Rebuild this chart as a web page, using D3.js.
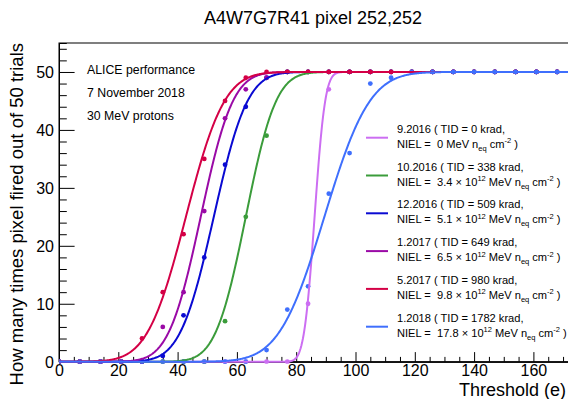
<!DOCTYPE html>
<html><head><meta charset="utf-8">
<script src="https://cdn.jsdelivr.net/npm/d3@7"></script>
<style>
body{margin:0;background:#fff}
svg{display:block;font-family:"Liberation Sans",Arial,Helvetica,sans-serif}
text{white-space:pre}
</style>
</head><body><svg id="c" width="568" height="399"></svg>
<script>
// ---- data ----
const thresholds = [0,7,14,21,28,35,42,49,56,63,70,77,84,91,98,105,112,119,126,133,140,147,154,161,168];
const seriesNames = ["9.2016","10.2016","12.2016","1.2017","5.2017","1.2018"];
const tidKrad = ["0","338","509","649","980","1782"];
const nielE12 = ["0","3.4","5.1","6.5","9.8","17.8"];
const fired_2016_09 = [0,0,0,0,0,0,0,0,0,0,0,0,10,47,50,50,50,50,50,50,50,50,50,50,50];
const fired_2016_10 = [0,0,0,0,0,0,0,0,7,25,39,50,50,50,50,50,50,50,50,50,50,50,50,50,50];
const fired_2016_12 = [0,0,0,0,0,1,8,18,34,44,49,50,50,50,50,50,50,50,50,50,50,50,50,50,50];
const fired_2017_01 = [0,0,0,0,0,6,12,26,42,47,49,50,50,50,50,50,50,50,50,50,50,50,50,50,50];
const fired_2017_05 = [0,0,0,0,4,12,22,35,45,49,50,50,50,50,50,50,50,50,50,50,50,50,50,50,50];
const fired_2018_01 = [0,0,0,0,0,0,0,0,0,0,2,9,13,29,36,48,49,50,50,50,50,50,50,50,50];
// s-curve (erf) fit parameters
const fitMean  = [86.2, 63.0, 52.2, 47.8, 42.8, 89.5];
const fitSigma = [2.8, 8.0, 8.9, 8.5, 10.2, 12.0];
const nTrials = 50;
const xTicks = [0,20,40,60,80,100,120,140,160];
const yTicks = [0,10,20,30,40,50];
const colors = ["#cc6ef2","#3b9c3b","#0a0ad2","#9a0aa6","#d40046","#3f6ffd"];

const series = [fired_2016_09,fired_2016_10,fired_2016_12,fired_2017_01,fired_2017_05,fired_2018_01];

// ---- layout ----
const svg = d3.select("#c");
const L = 59, T = 43, B = 361.7;
const pxPerUnit = 2.965;
const xMax = 175;
const x = d3.scaleLinear().domain([0, xMax]).range([L, L + xMax*pxPerUnit]);
const y = d3.scaleLinear().domain([0, 55]).range([B, T]);
const R = x(xMax);

function erf(z){
  const s = z < 0 ? -1 : 1; z = Math.abs(z);
  const t = 1/(1+0.3275911*z);
  const p = 1 - (((((1.061405429*t - 1.453152027)*t) + 1.421413741)*t - 0.284496736)*t + 0.254829592)*t*Math.exp(-z*z);
  return s*p;
}

// frame
svg.append("rect").attr("x",L).attr("y",T).attr("width",R-L).attr("height",B-T)
  .attr("fill","none").attr("stroke","#000").attr("stroke-width",1);

// axes
const fontTick = 16;
const xAxis = d3.axisBottom(x).tickValues(xTicks).tickSizeInner(-9.6).tickSizeOuter(0).tickPadding(3);
const gx = svg.append("g").attr("transform",`translate(0,${B})`).call(xAxis);
const xMinor = d3.axisBottom(x).tickValues(d3.range(0, 171, 5).filter(v=>v%20!==0)).tickSize(-4.8).tickFormat("");
svg.append("g").attr("transform",`translate(0,${B})`).call(xMinor);
const yAxis = d3.axisLeft(y).tickValues(yTicks).tickSizeInner(-15.6).tickSizeOuter(0).tickPadding(5);
const gy = svg.append("g").attr("transform",`translate(${L},0)`).call(yAxis);
const yMinor = d3.axisLeft(y).tickValues(d3.range(0, 55, 2).filter(v=>v%10!==0)).tickSize(-7.8).tickFormat("");
svg.append("g").attr("transform",`translate(${L},0)`).call(yMinor);
svg.selectAll(".domain").attr("stroke","#000");
svg.selectAll(".tick line").attr("stroke","#000");
svg.selectAll(".tick text").attr("font-size",fontTick).attr("font-family","Liberation Sans,Arial,sans-serif").attr("fill","#000");
gy.selectAll(".tick text").attr("dy","0.36em");

// curves (fits)
const xs = d3.range(0, xMax+0.001, 0.25);
const line = d3.line().x(d=>x(d[0])).y(d=>y(d[1])).curve(d3.curveLinear);
svg.append("clipPath").attr("id","pc").append("rect").attr("x",L).attr("y",T).attr("width",R-L).attr("height",B-T+2);
const plot = svg.append("g").attr("clip-path","url(#pc)");

series.forEach((vals,i)=>{
  plot.append("g").selectAll("circle").data(thresholds.map((t,k)=>[t,vals[k]])).join("circle")
    .attr("cx",d=>x(d[0])).attr("cy",d=>y(d[1])).attr("r",2.4).attr("fill",colors[i]);
});
series.forEach((vals,i)=>{
  const pts = xs.map(v=>[v, nTrials/2*(1+erf((v-fitMean[i])/(Math.SQRT2*fitSigma[i])))]);
  plot.append("path").datum(pts).attr("d",line).attr("fill","none")
    .attr("stroke",colors[i]).attr("stroke-width",2);
});

// titles
svg.append("text").attr("x",313).attr("y",24).attr("text-anchor","middle")
  .attr("font-size",18).text("A4W7G7R41 pixel 252,252");
svg.append("text").attr("x",566).attr("y",396).attr("text-anchor","end")
  .attr("font-size",18).text("Threshold (e)");
svg.append("text").attr("transform","translate(23,43) rotate(-90)").attr("text-anchor","end")
  .attr("font-size",18.5).text("How many times pixel fired out of 50 trials");

// annotations
const notes = ["ALICE performance","7 November 2018","30 MeV protons"];
notes.forEach((s,i)=>{
  svg.append("text").attr("x",87).attr("y",74+i*23).attr("font-size",12.3).text(s);
});

// legend
const lg = svg.append("g");
seriesNames.forEach((nm,i)=>{
  const ly = 137.7 + i*37.8;
  lg.append("line").attr("x1",366).attr("x2",388).attr("y1",ly).attr("y2",ly)
    .attr("stroke",colors[i]).attr("stroke-width",2);
  lg.append("text").attr("x",397).attr("y",ly-5).attr("font-size",11.1)
    .text(`${nm} ( TID = ${tidKrad[i]} krad,`);
  const t2 = lg.append("text").attr("x",397).attr("y",ly+10).attr("font-size",11.1);
  if (nielE12[i] === "0") {
    t2.append("tspan").text("NIEL =  0 MeV n");
  } else {
    t2.append("tspan").text(`NIEL =  ${nielE12[i]} \u00d7 10`);
    t2.append("tspan").attr("dy",-4.5).attr("font-size",7.5).text("12");
    t2.append("tspan").attr("dy",4.5).text(" MeV n");
  }
  t2.append("tspan").attr("dy",3).attr("font-size",7.5).text("eq");
  t2.append("tspan").attr("dy",-3).text(" cm");
  t2.append("tspan").attr("dy",-4.5).attr("font-size",7.5).text("-2");
  t2.append("tspan").attr("dy",4.5).text(" )");
});
</script>
</body></html>
